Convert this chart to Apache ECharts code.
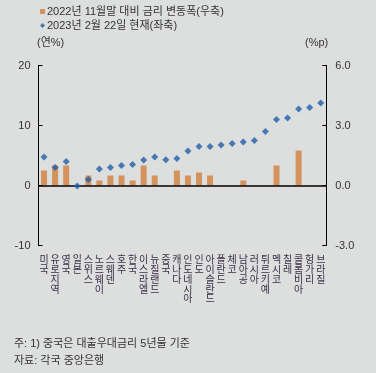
<!DOCTYPE html>
<html><head><meta charset="utf-8">
<script src="https://cdn.jsdelivr.net/npm/echarts@6/dist/echarts.min.js"></script>
<style>html,body{margin:0;padding:0;background:#dddede;}#c{width:376px;height:373px;}</style>
</head><body><div id="c"></div>
<script>
const categories = ['미국','유로지역','영국','일본','스위스','노르웨이','스웨덴','호주','한국','이스라엘','뉴질랜드','중국','캐나다','인도네시아','인도','아이슬란드','폴란드','체코','남아공','러시아','튀르키예','멕시코','칠레','콜롬비아','헝가리','브라질'];
const changeSinceNov = [0.75,1.0,1.0,0,0.5,0.25,0.5,0.5,0.25,1.0,0.5,0,0.75,0.5,0.65,0.5,0,0,0.25,0,0,1.0,0,1.75,0,0];
const rateFeb22 = [4.75,3.0,4.0,-0.1,1.0,2.75,3.0,3.35,3.5,4.25,4.75,4.3,4.5,5.75,6.5,6.5,6.75,7.0,7.25,7.5,9.0,11.0,11.25,12.75,13.0,13.75];
const leftTicks = [-10,0,10,20];
const rightTicks = [-3,0,3,6];
const seriesNames = ['2022년 11월말 대비 금리 변동폭(우축)','2023년 2월 22일 현재(좌축)'];

const FONT = '"Liberation Sans","Noto Sans CJK KR",sans-serif';
const chart = echarts.init(document.getElementById('c'), null, {renderer:'canvas'});
chart.setOption({
  backgroundColor:'#dddede',
  animation:false,
  textStyle:{fontFamily:FONT},
  legend:{
    orient:'vertical', left:35, top:1, itemGap:3, itemWidth:5, itemHeight:5,
    textStyle:{fontSize:11, color:'#333', fontFamily:FONT, padding:[0,0,0,-3]},
    data:[{name:seriesNames[0], icon:'rect'},{name:seriesNames[1], icon:'diamond'}]
  },
  graphic:[
    {type:'text', left:37, top:37, style:{text:'(연%)', font:'11px '+FONT, fill:'#333'}},
    {type:'text', left:305, top:37, style:{text:'(%p)', font:'11px '+FONT, fill:'#333'}},
    {type:'text', left:14, top:338, style:{text:'주: 1) 중국은 대출우대금리 5년물 기준', font:'11px '+FONT, fill:'#333'}},
    {type:'text', left:14, top:355, style:{text:'자료: 각국 중앙은행', font:'11px '+FONT, fill:'#333'}}
  ],
  grid:{left:38.5, right:49.7, top:65.5, bottom:127.5, containLabel:false},
  xAxis:{
    type:'category', data:categories, position:'bottom',
    axisLine:{show:false}, axisTick:{show:false},
    axisLabel:{interval:0, margin:10, fontSize:10, lineHeight:9.8, color:'#3a2f45', fontFamily:FONT,
      formatter:v=>v.split('').join('\n'), verticalAlign:'top'}
  },
  yAxis:[
    {type:'value', min:-10, max:20, interval:10, position:'left',
      splitLine:{show:false},
      axisLine:{show:true, onZero:false, lineStyle:{color:'#000', width:1}},
      axisTick:{show:true, inside:true, length:4, lineStyle:{color:'#000'}},
      axisLabel:{margin:8, fontSize:11, color:'#333', fontFamily:FONT}},
    {type:'value', min:-3, max:6, interval:3, position:'right',
      splitLine:{show:false},
      axisLine:{show:true, onZero:false, lineStyle:{color:'#000', width:1}},
      axisTick:{show:true, inside:true, length:4, lineStyle:{color:'#000'}},
      axisLabel:{margin:9, fontSize:11, color:'#333', fontFamily:FONT, formatter:v=>v.toFixed(1)}}
  ],
  series:[
    {name:seriesNames[0], type:'bar', yAxisIndex:1, data:changeSinceNov, barWidth:6,
      itemStyle:{color:'#d4935c'},
      markLine:{silent:true, symbol:'none', label:{show:false}, lineStyle:{color:'#000', width:1.5, type:'solid'},
        data:[{yAxis:0}]}},
    {name:seriesNames[1], type:'scatter', yAxisIndex:0, data:rateFeb22, symbol:'diamond', symbolSize:7,
      itemStyle:{color:'#1f5fa8'}, z:5}
  ]
});
</script></body></html>
